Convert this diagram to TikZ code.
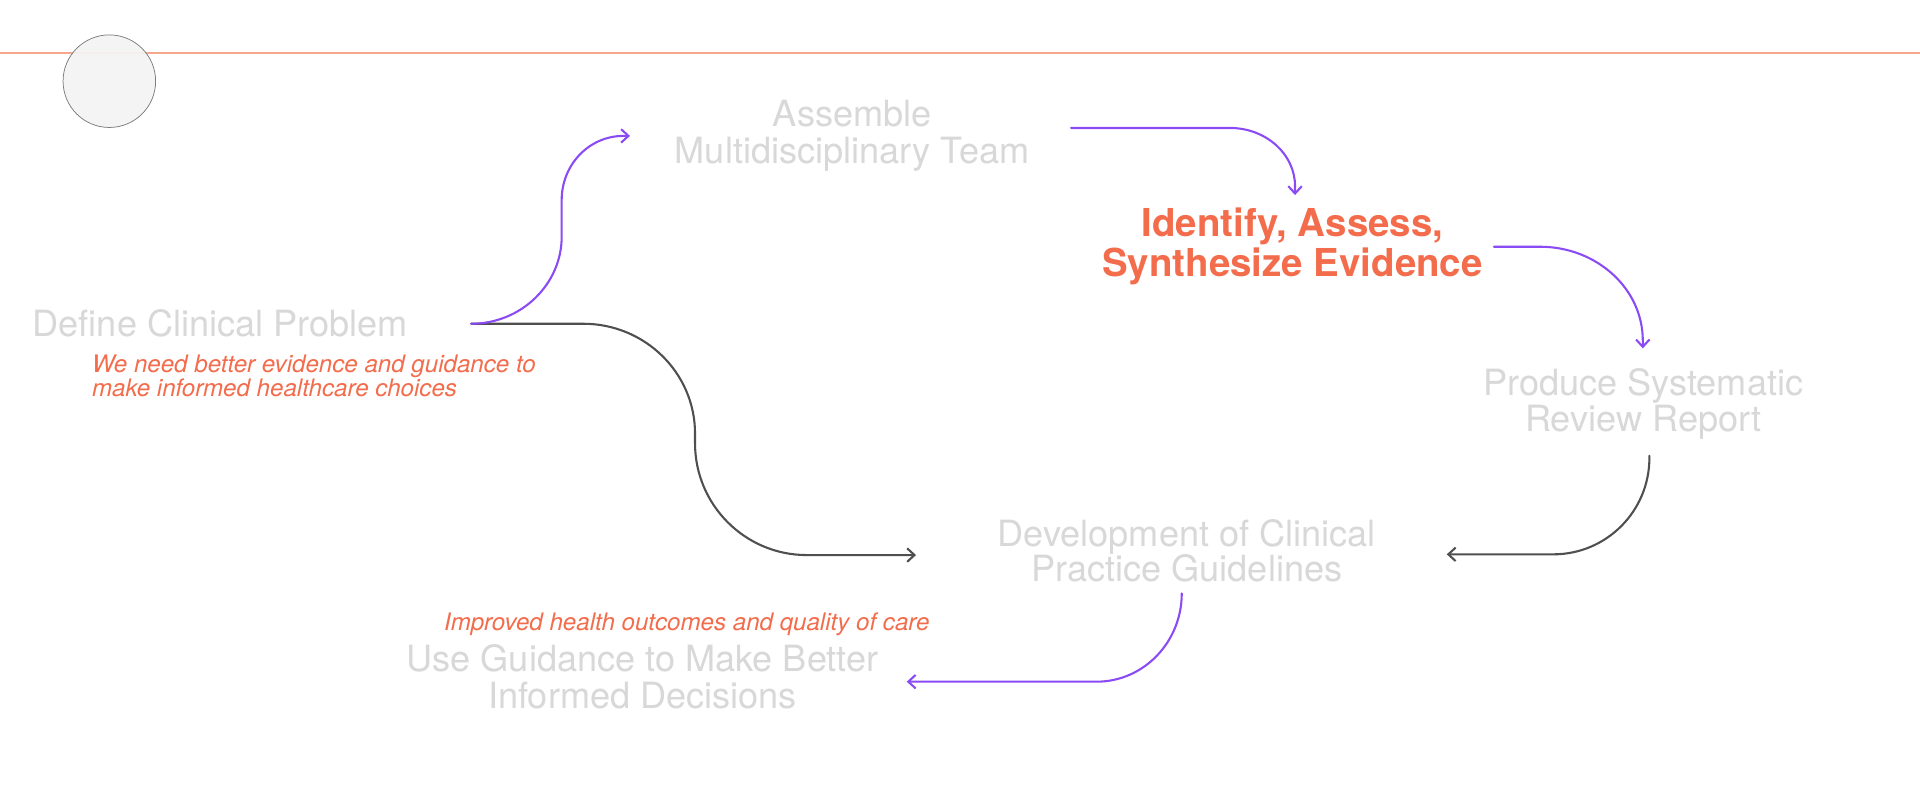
\documentclass[tikz,border=0pt]{standalone}
\usepackage{fontspec}
\setmainfont{TeX Gyre Heros}
\usetikzlibrary{arrows.meta}
\definecolor{txtgray}{HTML}{D8D8D8}
\definecolor{hiorange}{HTML}{F36C4C}
\definecolor{flowpurple}{HTML}{8A4BF4}
\definecolor{flowdark}{HTML}{4F4F4F}
\definecolor{topline}{HTML}{F7A88C}
\definecolor{dotfill}{HTML}{F4F4F4}
\definecolor{dotedge}{HTML}{7A7A7A}
\begin{document}
\begin{tikzpicture}[x=1pt,y=-1pt,
  graytxt/.style={inner sep=0pt, anchor=base, text=txtgray, font=\fontsize{29.5}{30}\selectfont},
  hitxt/.style={inner sep=0pt, anchor=base, text=hiorange, font=\fontsize{31.4}{32}\selectfont\bfseries},
  notetxt/.style={inner sep=0pt, anchor=base west, text=hiorange, font=\fontsize{19.7}{20}\selectfont\itshape},
  flow/.style={line width=1.7pt, line cap=round, -{Straight Barb[length=6pt,width=11pt]}},
  pflow/.style={flow, draw=flowpurple},
  dflow/.style={flow, draw=flowdark}]
\useasboundingbox[fill=white] (0,0) rectangle (1568,658.2);

% top rule and dot
\draw[topline, line width=1.6pt] (0,43.6) -- (1568,43.6);
\node[circle, minimum size=75.6pt, inner sep=0pt, draw=dotedge, line width=0.6pt, fill=dotfill, fill opacity=0.93] (dot) at (89.3,66.3) {};

% labels
\node[graytxt] (asm1) at (696,103.5) {Assemble};
\node[graytxt] (asm2) at (696,133.9) {Multidisciplinary Team};
\node[hitxt] (ev1) at (1055.5,193.3) {Identify, Assess,};
\node[hitxt] (ev2) at (1055.5,225.4) {Synthesize Evidence};
\node[graytxt, anchor=base west] (def) at (26.5,275) {Define Clinical Problem};
\node[notetxt] (need1) at (75,304.4) {We need better evidence and guidance to};
\node[notetxt] (need2) at (75,323.8) {make informed healthcare choices};
\node[graytxt] (sr1) at (1342,323.1) {Produce Systematic};
\node[graytxt] (sr2) at (1342,352.5) {Review Report};
\node[graytxt] (cpg1) at (969.2,445.9) {Development of Clinical};
\node[graytxt] (cpg2) at (969.2,475) {Practice Guidelines};
\node[notetxt] (out) at (362.5,515) {Improved health outcomes and quality of care};
\node[graytxt] (use1) at (524.7,548.5) {Use Guidance to Make Better};
\node[graytxt] (use2) at (524.7,578.5) {Informed Decisions};

% connector end points
\coordinate (defout) at (384.7,264.4);
\coordinate (asmin) at (514.5,111);
\coordinate (asmout) at (874.7,104.5);
\coordinate (evin) at (1057.6,159.3);
\coordinate (evout) at (1220,201.5);
\coordinate (srin) at (1341.6,284.5);
\coordinate (srout) at (1347,372.2);
\coordinate (cpginr) at (1181.5,452.7);
\coordinate (cpginl) at (748.1,453.3);
\coordinate (cpgout) at (965.1,484.6);
\coordinate (usein) at (740.5,556.7);

% connectors
\draw[dflow] (defout) -- (476.4,264.4)
  .. controls (526.7,264.4) and (567.6,304.6) .. (567.6,354)
  -- (567.6,362)
  .. controls (567.6,412.4) and (608.5,453.3) .. (658.8,453.3)
  -- (cpginl);
\draw[pflow] (defout)
  .. controls (425.6,264.4) and (458.7,232.2) .. (458.7,193.3)
  -- (458.7,163.3)
  .. controls (458.7,134.4) and (481.2,111) .. (509,111)
  -- (asmin);
\draw[pflow] (asmout) -- (1004.5,104.5)
  .. controls (1033.8,104.5) and (1057.6,125.8) .. (1057.6,152)
  -- (evin);
\draw[pflow] (evout) -- (1257.7,201.5)
  .. controls (1304,201.5) and (1341.6,235.8) .. (1341.6,278)
  -- (srin);
\draw[dflow] (srout) -- (1347,374)
  .. controls (1347,417.4) and (1311.9,452.7) .. (1268.6,452.7)
  -- (cpginr);
\draw[pflow] (cpgout)
  .. controls (965.1,524.3) and (934,556.7) .. (895.6,556.7)
  -- (usein);
\end{tikzpicture}
\end{document}
